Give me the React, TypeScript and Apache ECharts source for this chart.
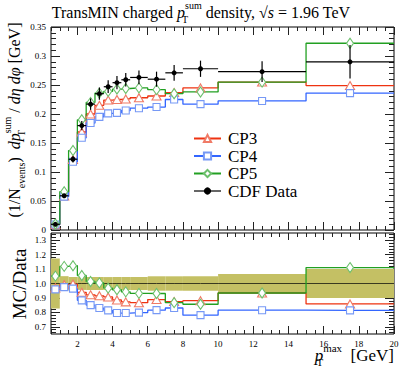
import React, { useEffect, useRef } from 'react';
import * as echarts from 'echarts';

const binEdges = [0.5, 1, 1.5, 2, 2.5, 3, 3.5, 4, 4.5, 5, 6, 7, 8, 10, 15, 20];
const cdfData = [0.0098, 0.059, 0.122, 0.18, 0.217, 0.235, 0.247, 0.254, 0.259, 0.263, 0.26, 0.271, 0.278, 0.273, 0.29];
const cdfErr = [0.0017, 0.003, 0.0055, 0.008, 0.0098, 0.0106, 0.011, 0.0114, 0.0117, 0.0118, 0.013, 0.0135, 0.014, 0.018, 0.029];
const cp3 = [0.0095, 0.0585, 0.1215, 0.169, 0.2, 0.215, 0.224, 0.225, 0.226, 0.228, 0.231, 0.237, 0.245, 0.255, 0.249];
const cp4 = [0.0094, 0.0575, 0.1177, 0.159, 0.1845, 0.195, 0.201, 0.202, 0.206, 0.21, 0.212, 0.225, 0.217, 0.2225, 0.236];
const cp5 = [0.0103, 0.066, 0.137, 0.19, 0.22, 0.236, 0.239, 0.243, 0.244, 0.245, 0.242, 0.235, 0.238, 0.255, 0.322];
const xMajorTicks = [2, 4, 6, 8, 10, 12, 14, 16, 18, 20];
const ratioMajorTicks = [0.7, 0.8, 0.9, 1.0, 1.1, 1.2, 1.3];

const FONT = '"Liberation Serif", "Times New Roman", serif';

const xMinorTicks: number[] = [];
for (let v = 0.5; v <= 20.001; v += 0.5) xMinorTicks.push(Math.round(v * 10) / 10);
const ratioMinorTicks: number[] = [];
for (let v = 0.66; v <= 1.35; v += 0.02) ratioMinorTicks.push(Math.round(v * 100) / 100);

const tickLine = { color: '#222', width: 1 };

function stepPoints(vals: number[]) {
  const pts: any[] = [];
  vals.forEach((v, i) => {
    const x0 = binEdges[i];
    const x1 = binEdges[i + 1];
    pts.push({ value: [x0, v], symbol: 'none' });
    pts.push({ value: [(x0 + x1) / 2, v] });
    pts.push({ value: [x1, v], symbol: 'none' });
  });
  return pts;
}

function xAxisDef(gridIndex: number, position: string, ticks: number[], len: number, labels: boolean) {
  return {
    type: 'value', gridIndex, position, min: 0.5, max: 20,
    axisLine: { show: false },
    splitLine: { show: false },
    axisTick: { show: true, inside: true, length: len, customValues: ticks, lineStyle: tickLine },
    axisLabel: labels
      ? { show: true, customValues: xMajorTicks, margin: 5, fontSize: 9, fontFamily: FONT, color: '#000' }
      : { show: false },
  };
}

function ratioYAxis(position: string, ticks: number[], len: number, labels: boolean) {
  return {
    type: 'value', gridIndex: 1, position, min: 0.65, max: 1.35,
    axisLine: { show: false },
    splitLine: { show: false },
    axisTick: { show: true, inside: true, length: len, customValues: ticks, lineStyle: tickLine },
    axisLabel: labels
      ? { show: true, customValues: ratioMajorTicks, margin: 5, fontSize: 9, fontFamily: FONT, color: '#000',
          formatter: (v: number) => v.toFixed(1) }
      : { show: false },
  };
}

function topYAxis(position: string, labels: boolean) {
  return {
    type: 'value', gridIndex: 0, position, min: 0, max: 0.35, interval: 0.05,
    axisLine: { show: false },
    splitLine: { show: false },
    axisTick: { show: true, inside: true, length: 9, lineStyle: tickLine },
    minorTick: { show: true, splitNumber: 5, length: 5, lineStyle: tickLine },
    axisLabel: labels ? { show: true, margin: 5, fontSize: 9, fontFamily: FONT, color: '#000' } : { show: false },
  };
}

const mcDefs = [
  { name: 'CP3', vals: cp3, line: '#ee3311', mark: '#f07a66', symbol: 'triangle', size: [9, 8] },
  { name: 'CP4', vals: cp4, line: '#3366ff', mark: '#7799f5', symbol: 'rect', size: [7, 7] },
  { name: 'CP5', vals: cp5, line: '#22a022', mark: '#6cc06c', symbol: 'diamond', size: [7, 10] },
];

function mcSeries(def: any, vals: number[], xi: number, yi: number, name: string) {
  return {
    type: 'line', name, xAxisIndex: xi, yAxisIndex: yi, z: 3,
    data: stepPoints(vals),
    showSymbol: true,
    symbol: def.symbol, symbolSize: def.size,
    lineStyle: { color: def.line, width: 1.3 },
    itemStyle: { color: '#fff', borderColor: def.mark, borderWidth: 1.1 },
    emphasis: { disabled: true },
    clip: true,
  };
}

const rich = (size: number) => ({
  r: { fontSize: size, fontFamily: FONT, lineHeight: size + 8, fill: '#000' },
  i: { fontSize: size, fontFamily: FONT, fontStyle: 'italic', lineHeight: size + 8, fill: '#000' },
  sb: { fontSize: Math.round(size * 0.65), fontFamily: FONT, lineHeight: Math.round(size * 0.65) + 4, verticalAlign: 'bottom', width: 0, fill: '#000' },
  sbw: { fontSize: Math.round(size * 0.65), fontFamily: FONT, lineHeight: Math.round(size * 0.65) + 4, verticalAlign: 'bottom', fill: '#000' },
  sp: { fontSize: Math.round(size * 0.65), fontFamily: FONT, lineHeight: Math.round(size * 0.65) + 4, verticalAlign: 'top', fill: '#000' },
});

function buildOption() {
  const series: any[] = [];
  series.push({
    type: 'custom', name: 'band', xAxisIndex: 4, yAxisIndex: 2, z: 1, silent: true, clip: true,
    encode: { x: [0, 1], y: [2, 3] },
    data: cdfData.map((d, i) => [binEdges[i], binEdges[i + 1], 1 - cdfErr[i] / d, 1 + cdfErr[i] / d]),
    renderItem: (params: any, api: any) => {
      const p0 = api.coord([api.value(0), api.value(3)]);
      const p1 = api.coord([api.value(1), api.value(2)]);
      return { type: 'rect', shape: { x: p0[0], y: p0[1], width: p1[0] - p0[0], height: p1[1] - p0[1] },
        style: { fill: '#c4c064' } };
    },
  });
  series.push({
    type: 'line', name: 'data ratio', xAxisIndex: 4, yAxisIndex: 2, z: 2, showSymbol: false,
    data: stepPoints(cdfData.map((d) => d / d)).map((p) => p.value),
    lineStyle: { color: '#3a3a20', width: 1 }, emphasis: { disabled: true },
  });
  mcDefs.forEach((d) => {
    series.push(mcSeries(d, d.vals, 0, 0, d.name));
  });
  mcDefs.forEach((d) => {
    series.push(mcSeries(d, d.vals.map((v, i) => v / cdfData[i]), 4, 2, d.name + ' / Data'));
  });
  series.push({
    type: 'custom', name: 'CDF errors', xAxisIndex: 0, yAxisIndex: 0, z: 5, silent: true,
    encode: { x: [0, 1], y: 2 },
    data: cdfData.map((d, i) => [binEdges[i], binEdges[i + 1], d, cdfErr[i]]),
    renderItem: (params: any, api: any) => {
      const x0 = api.value(0), x1 = api.value(1), y = api.value(2), e = api.value(3);
      const xc = (x0 + x1) / 2;
      const a = api.coord([x0, y]), b = api.coord([x1, y]);
      const c = api.coord([xc, y - e]), dd = api.coord([xc, y + e]);
      return { type: 'group', children: [
        { type: 'line', shape: { x1: a[0], y1: a[1], x2: b[0], y2: b[1] }, style: { stroke: '#000', lineWidth: 1.2 } },
        { type: 'line', shape: { x1: c[0], y1: c[1], x2: dd[0], y2: dd[1] }, style: { stroke: '#000', lineWidth: 1.2 } },
      ] };
    },
  });
  series.push({
    type: 'line', name: 'CDF Data', xAxisIndex: 0, yAxisIndex: 0, z: 6,
    data: cdfData.map((v, i) => [(binEdges[i] + binEdges[i + 1]) / 2, v]),
    symbol: 'circle', symbolSize: 5, showSymbol: true,
    lineStyle: { opacity: 0, color: '#000' },
    itemStyle: { color: '#000' }, emphasis: { disabled: true },
  });

  return {
    animation: false,
    grid: [
      { left: 51, top: 27, width: 343, height: 203, show: true, borderColor: '#000', borderWidth: 1 },
      { left: 51, top: 233, width: 343, height: 101, show: true, borderColor: '#000', borderWidth: 1 },
    ],
    xAxis: [
      xAxisDef(0, 'bottom', xMajorTicks, 8, false),
      xAxisDef(0, 'bottom', xMinorTicks, 4, false),
      xAxisDef(0, 'top', xMajorTicks, 8, false),
      xAxisDef(0, 'top', xMinorTicks, 4, false),
      xAxisDef(1, 'bottom', xMajorTicks, 8, true),
      xAxisDef(1, 'bottom', xMinorTicks, 4, false),
      xAxisDef(1, 'top', xMajorTicks, 7, false),
      xAxisDef(1, 'top', xMinorTicks, 4, false),
    ],
    yAxis: [
      topYAxis('left', true),
      topYAxis('right', false),
      ratioYAxis('left', ratioMajorTicks, 9, true),
      ratioYAxis('left', ratioMinorTicks, 5, false),
      ratioYAxis('right', ratioMajorTicks, 9, false),
      ratioYAxis('right', ratioMinorTicks, 5, false),
    ],
    legend: {
      orient: 'vertical', left: 188, top: 125, itemWidth: 27, itemHeight: 9, itemGap: 0.5,
      selectedMode: false,
      textStyle: { fontSize: 17, lineHeight: 15, fontFamily: FONT, color: '#000', padding: [0, 0, 0, 2] },
      data: [
        { name: 'CP3' }, { name: 'CP4' }, { name: 'CP5' },
        { name: 'CDF Data', lineStyle: { opacity: 1, color: '#000', width: 1.2 } },
      ],
    },
    graphic: [
      {
        type: 'text', x: 201, y: 12, silent: true,
        style: {
          text: '{r|TransMIN charged }{i|p}{sb|T}{sp|sum}{r| density, √}{i|s}{r| = 1.96 TeV}',
          align: 'center', verticalAlign: 'middle', rich: rich(16),
        },
      },
      {
        type: 'text', x: 14, y: 120, rotation: Math.PI / 2, silent: true,
        style: {
          text: '{r|(1/N}{sbw|events}{r|)  }{i|dp}{sb|T}{sp|sum}{r| / }{i|dη dφ}{r| [GeV]}',
          align: 'center', verticalAlign: 'middle', rich: rich(16),
        },
      },
      {
        type: 'text', x: 19, y: 284, rotation: Math.PI / 2, silent: true,
        style: { text: 'MC/Data', align: 'center', verticalAlign: 'middle', fontSize: 19, fontFamily: FONT, fill: '#000' },
      },
      {
        type: 'text', x: 394, y: 355, silent: true,
        style: {
          text: '{i|p}{sb|T}{sp|max}{r|  [GeV]}',
          align: 'right', verticalAlign: 'middle', rich: rich(17),
        },
      },
    ],
    series,
  };
}

export default function App() {
  const ref = useRef<HTMLDivElement>(null);
  useEffect(() => {
    const chart = echarts.init(ref.current!, null, { renderer: 'svg' });
    chart.setOption(buildOption() as any);
    return () => chart.dispose();
  }, []);
  return <div ref={ref} style={{ position: 'fixed', left: 0, top: 0, width: 407, height: 369, background: '#fff' }} />;
}
